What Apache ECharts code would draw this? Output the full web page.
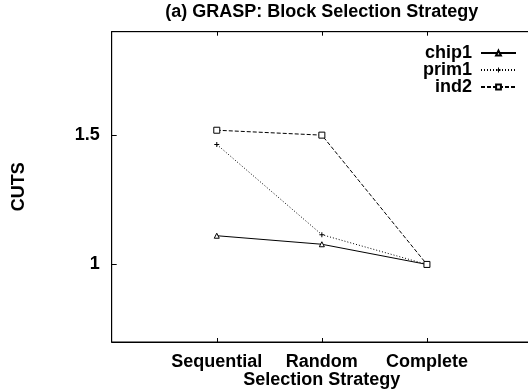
<!DOCTYPE html>
<html>
<head>
<meta charset="utf-8">
<script src="https://cdn.jsdelivr.net/npm/echarts@6/dist/echarts.min.js"></script>
<style>html,body{margin:0;padding:0;background:#fff}#c{width:528px;height:392px}</style>
</head>
<body>
<div id="c"></div>
<script>
const categories = ['Sequential', 'Random', 'Complete'];
const chip1 = [1.111, 1.078, 1.0];
const prim1 = [1.464, 1.115, 1.0];
const ind2 = [1.519, 1.500, 1.0];
const yTicks = [1, 1.5];
const xTicks = [1, 2, 3];

const FONT = 'Liberation Sans';
const chart = echarts.init(document.getElementById('c'), null, {renderer: 'canvas'});
const toPts = arr => arr.map((v, i) => [i + 1, v]);
const plus = 'path://M2,0L3,0L3,2L5,2L5,3L3,3L3,5L2,5L2,3L0,3L0,2L2,2Z';

chart.setOption({
  animation: false,
  backgroundColor: '#fff',
  title: {
    text: '(a) GRASP: Block Selection Strategy',
    left: 321.7, top: 3, padding: 0,
    textAlign: 'center',
    textStyle: {fontFamily: FONT, fontSize: 18, fontWeight: 'bold', color: '#000'}
  },
  grid: {left: 111.7, top: 31.7, right: -4, bottom: 50, show: true, borderColor: '#000', borderWidth: 1,
    containLabel: false, outerBoundsMode: 'none'},
  legend: {
    orient: 'vertical', align: 'right', right: 11, top: 44, padding: 0,
    itemWidth: 35, itemHeight: 6, itemGap: -1,
    textStyle: {fontFamily: FONT, fontSize: 18, fontWeight: 'bold', color: '#000', lineHeight: 15.5, padding: [0, 4, 0, 0]},
    data: ['chip1', 'prim1', 'ind2']
  },
  xAxis: [{
    type: 'value', min: 0, max: 4, interval: 1, position: 'bottom',
    name: 'Selection Strategy', nameLocation: 'middle', nameGap: 29, nameMoveOverlap: false,
    nameTextStyle: {fontFamily: FONT, fontSize: 18, fontWeight: 'bold', color: '#000'},
    axisLine: {show: true, lineStyle: {color: '#000', width: 1}},
    axisTick: {show: true, inside: true, length: 4, customValues: xTicks, lineStyle: {color: '#000'}},
    axisLabel: {show: true, margin: 11, customValues: xTicks, fontFamily: FONT, fontSize: 18, fontWeight: 'bold', color: '#000',
      formatter: v => categories[Math.round(v) - 1] || ''},
    splitLine: {show: false}
  }, {
    type: 'value', min: 0, max: 4, interval: 1, position: 'top',
    axisLine: {show: true, lineStyle: {color: '#000', width: 1}},
    axisTick: {show: true, inside: true, length: 4, customValues: xTicks, lineStyle: {color: '#000'}},
    axisLabel: {show: false},
    splitLine: {show: false}
  }],
  yAxis: {
    type: 'value', min: 0.7, max: 1.9,
    name: 'CUTS', nameLocation: 'middle', nameGap: 84, nameRotate: 90, nameMoveOverlap: false,
    nameTextStyle: {fontFamily: FONT, fontSize: 18, fontWeight: 'bold', color: '#000'},
    axisLine: {show: true, lineStyle: {color: '#000', width: 1}},
    axisTick: {show: true, inside: true, length: 5, customValues: yTicks, lineStyle: {color: '#000'}},
    axisLabel: {show: true, margin: 12, customValues: yTicks, fontFamily: FONT, fontSize: 18, fontWeight: 'bold', color: '#000',
      formatter: v => String(v)},
    splitLine: {show: false}
  },
  series: [{
    name: 'chip1', type: 'line', data: toPts(chip1),
    symbol: 'triangle', symbolSize: 5, showAllSymbol: true,
    itemStyle: {color: '#fff', borderColor: '#000', borderWidth: 1},
    lineStyle: {color: '#000', width: 1, type: 'solid'}
  }, {
    name: 'prim1', type: 'line', data: toPts(prim1),
    symbol: plus, symbolSize: 5,
    itemStyle: {color: '#000', borderWidth: 0},
    lineStyle: {color: '#000', width: 1, type: [1, 2]}
  }, {
    name: 'ind2', type: 'line', data: toPts(ind2),
    symbol: 'rect', symbolSize: 6,
    itemStyle: {color: '#fff', borderColor: '#000', borderWidth: 1},
    lineStyle: {color: '#000', width: 1, type: [4, 2]}
  }]
});
</script>
</body>
</html>
